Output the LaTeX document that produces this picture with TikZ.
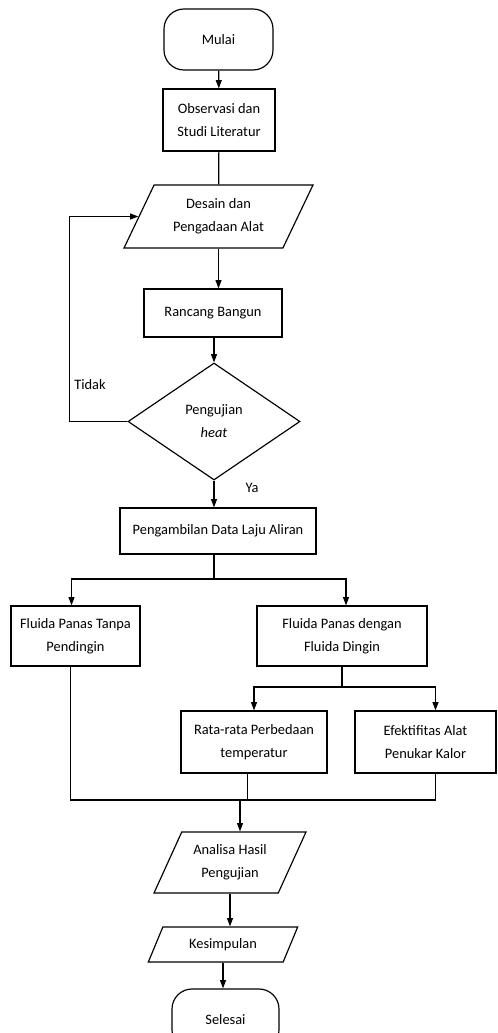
\documentclass[tikz,border=0pt]{standalone}
\usepackage{fontspec}
\setmainfont{Carlito}
\usetikzlibrary{shapes.geometric,arrows.meta}

\begin{document}
\begin{tikzpicture}[x=0.03cm, y=-0.03cm,
  every node/.style={font=\fontsize{12.3}{19.5}\selectfont, align=center},
  box/.style={draw, line width=1pt, rectangle, inner sep=2pt},
  term/.style={draw, line width=1pt, rectangle, rounded corners=0.6cm},
  io/.style={draw, line width=1pt, trapezium, trapezium left angle=60, trapezium right angle=120, trapezium stretches=true, inner sep=1pt},
  keputusan/.style={draw, line width=1pt, diamond, inner sep=0pt},
  line/.style={line width=1pt},
  panah/.style={line width=1pt, -{Triangle[length=7pt,width=5pt]}}]
  \useasboundingbox (0,0) rectangle (497,1033);
  \clip (0,0) rectangle (497,1033);
  \node[term, minimum width=3.27cm, minimum height=1.83cm] (mulai) at (218.5,39.5) {Mulai};
  \node[box, minimum width=3.36cm, minimum height=1.86cm] (obs) at (219,120) {Observasi dan\\Studi Literatur};
  \node[io, minimum width=5.67cm, minimum height=1.89cm] (desain) at (218.5,216.5) {Desain dan\\Pengadaan Alat};
  \node[box, minimum width=4.14cm, minimum height=1.44cm] (rancang) at (213,313) {Rancang Bangun};
  \node[keputusan, minimum width=5.16cm, minimum height=3.51cm] (uji) at (214,421.5) {Pengujian\\\textit{heat}};
  \node[box, minimum width=5.88cm, minimum height=1.38cm] (ambil) at (218,531) {Pengambilan Data Laju Aliran};
  \node[box, minimum width=3.87cm, minimum height=1.8cm] (tanpa) at (75.5,636) {Fluida Panas Tanpa\\Pendingin};
  \node[box, minimum width=5.1cm, minimum height=1.8cm] (dengan) at (342,636) {Fluida Panas dengan\\Fluida Dingin};
  \node[box, minimum width=4.38cm, minimum height=1.86cm] (rata) at (254,742) {Rata-rata Perbedaan\\temperatur};
  \node[box, minimum width=4.23cm, minimum height=1.86cm] (efek) at (425.5,742) {Efektifitas Alat\\Penukar Kalor};
  \node[io, minimum width=4.56cm, minimum height=1.83cm] (analisa) at (230,862.5) {Analisa Hasil\\Pengujian};
  \node[io, minimum width=4.5cm, minimum height=1.05cm] (simpul) at (223,944.5) {Kesimpulan};
  \node[term, minimum width=3.21cm, minimum height=1.83cm] (selesai) at (225.5,1019.5) {Selesai};
  \node (tidak) at (90,385) {Tidak};
  \node (ya) at (252,488) {Ya};
  \coordinate (pecah) at (214,579);
  \coordinate (pecah2) at (342,687);
  \coordinate (gabung) at (240,800);
  \draw[panah] (mulai) -- (obs);
  \draw[line] (obs) -- (desain);
  \draw[panah] (desain.south) -- (desain.south |- rancang.north);
  \draw[panah] (rancang.south -| uji.north) -- (uji.north);
  \draw[panah] (uji.west) -- ++(-58,0) |- (desain.west);
  \draw[panah] (uji.south) -- (uji.south |- ambil.north);
  \draw[line] (ambil.south -| pecah) -- (pecah);
  \draw[panah] (pecah) -| ([xshift=-0.12cm]tanpa.north);
  \draw[panah] (pecah) -| ([xshift=0.12cm]dengan.north);
  \draw[line] (dengan.south -| pecah2) -- (pecah2);
  \draw[panah] (pecah2) -| (rata.north);
  \draw[panah] (pecah2) -| ([xshift=0.3cm]efek.north);
  \draw[line] ([xshift=-0.15cm]tanpa.south) |- (gabung);
  \draw[line] ([xshift=-0.2cm]rata.south) -- ([xshift=-0.2cm]rata.south |- gabung);
  \draw[line] ([xshift=0.3cm]efek.south) |- (gabung);
  \draw[panah] (gabung) -- (gabung |- analisa.north);
  \draw[panah] (analisa.south) -- (analisa.south |- simpul.north);
  \draw[panah] (simpul.south) -- (simpul.south |- selesai.north);
\end{tikzpicture}
\end{document}
